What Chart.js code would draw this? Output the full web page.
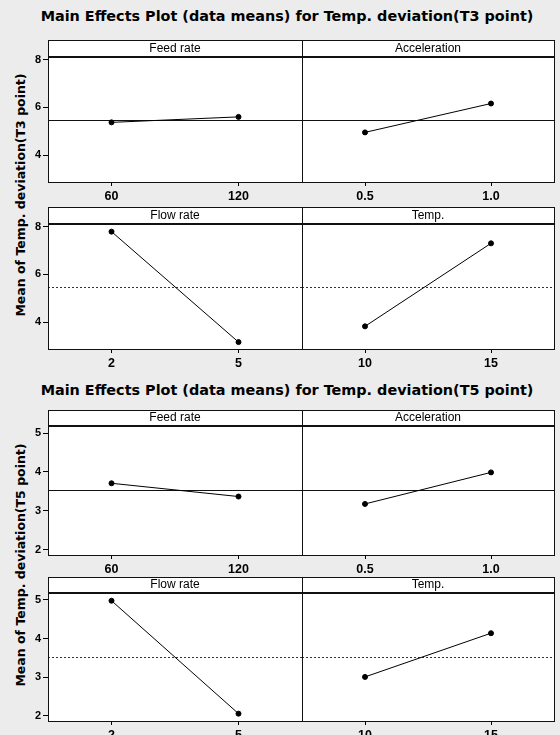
<!DOCTYPE html>
<html>
<head>
<meta charset="utf-8">
<script src="https://cdn.jsdelivr.net/npm/chart.js@4.4.1/dist/chart.umd.min.js"></script>
<style>
  body { margin: 0; width: 560px; height: 735px; position: relative; overflow: hidden; background: #ececec; }
  canvas { position: absolute; }
  .ttl { position: absolute; left: 287px; transform: translateX(-50%); white-space: nowrap;
         font: bold 14.4px "DejaVu Sans"; line-height: 20px; color: #000; }
  .ylab { position: absolute; left: 21px; transform: translate(-50%, -50%) rotate(-90deg); white-space: nowrap;
          font: bold 12.5px "DejaVu Sans"; line-height: 14px; color: #000; }
</style>
</head>
<body>
<div class="ttl" style="top:6px">Main Effects Plot (data means) for Temp. deviation(T3 point)</div>
<div class="ylab" style="top:195px">Mean of Temp. deviation(T3 point)</div>
<div class="ttl" style="top:380px">Main Effects Plot (data means) for Temp. deviation(T5 point)</div>
<div class="ylab" style="top:565px">Mean of Temp. deviation(T5 point)</div>
<script>
// factors and their levels
const factors = ['Feed rate', 'Acceleration', 'Flow rate', 'Temp.'];
const feedLevels = ['60', '120'];
const accLevels = ['0.5', '1.0'];
const flowLevels = ['2', '5'];
const tempLevels = ['10', '15'];

// T3 point means
const t3Feed = [5.37, 5.60];
const t3Acc = [4.95, 6.16];
const t3Flow = [7.79, 3.16];
const t3Temp = [3.82, 7.30];
const t3Mean = 5.48;
const t3Ticks = [4, 6, 8];
const t3Range = [2.87, 8.11];

// T5 point means
const t5Feed = [3.71, 3.37];
const t5Acc = [3.18, 3.99];
const t5Flow = [4.98, 2.06];
const t5Temp = [3.01, 4.14];
const t5Mean = 3.53;
const t5Ticks = [2, 3, 4, 5];
const t5Range = [1.87, 5.18];

// panel boxes: top of header, header height, bottom of plot area
const rows = [[40, 17, 182], [207, 17, 349], [410, 16, 555], [577, 16, 721]];
const xAxisH = 22;

const panelBox = {
  id: 'panelBox',
  beforeDraw(chart, args, o) {
    const a = chart.chartArea, ctx = chart.ctx;
    ctx.save();
    ctx.fillStyle = '#fff';
    ctx.fillRect(a.left, a.top - o.hdr, a.right - a.left, a.bottom - a.top + o.hdr);
    ctx.restore();
  },
  beforeDatasetsDraw(chart, args, o) {
    const a = chart.chartArea, ctx = chart.ctx;
    const y = Math.round(chart.scales.y.getPixelForValue(o.mean)) + 0.5;
    ctx.save();
    ctx.strokeStyle = o.meanColor;
    ctx.lineWidth = 1;
    ctx.setLineDash(o.meanDash);
    ctx.beginPath();
    ctx.moveTo(a.left, y);
    ctx.lineTo(a.right, y);
    ctx.stroke();
    ctx.restore();
  },
  afterDraw(chart, args, o) {
    const a = chart.chartArea, ctx = chart.ctx;
    ctx.save();
    ctx.strokeStyle = '#111';
    ctx.lineWidth = 1;
    ctx.strokeRect(a.left + 0.5, a.top - o.hdr + 0.5, a.right - a.left, a.bottom - a.top + o.hdr);
    ctx.lineWidth = 2;
    ctx.beginPath();
    ctx.moveTo(a.left, a.top);
    ctx.lineTo(a.right + 1, a.top);
    ctx.stroke();
    ctx.restore();
  }
};

function panel(row, col, name, levels, values, mean, range, ticks, dotted) {
  const [boxTop, hdr, bottom] = rows[row];
  const cv = document.createElement('canvas');
  const left = col === 0 ? 0 : 300;
  const w = col === 0 ? 304 : 256;
  const h = bottom - boxTop + 2 + xAxisH;
  cv.width = w; cv.height = h;
  cv.style.left = left + 'px';
  cv.style.top = (boxTop - 2) + 'px';
  document.body.appendChild(cv);

  new Chart(cv, {
    type: 'line',
    data: {
      labels: levels,
      datasets: [{
        data: values,
        borderColor: '#000',
        borderWidth: 1,
        pointRadius: 2.5,
        pointBackgroundColor: '#000',
        pointBorderColor: '#000',
        tension: 0
      }]
    },
    options: {
      responsive: false,
      animation: false,
      events: [],
      layout: { autoPadding: false, padding: { top: 2, bottom: 0, left: col === 0 ? 0 : 2, right: 2 } },
      scales: {
        x: {
          type: 'category',
          offset: true,
          border: { display: false },
          grid: { offset: false, drawOnChartArea: false, drawTicks: true, tickLength: 4, color: '#000' },
          ticks: { color: '#000', padding: 3, maxRotation: 0, font: { family: 'Liberation Sans', size: 12.5, weight: 'bold' } },
          afterFit(s) { s.height = xAxisH; s.paddingLeft = 0; s.paddingRight = 0; }
        },
        y: {
          display: col === 0,
          min: range[0],
          max: range[1],
          border: { display: false },
          grid: { drawOnChartArea: false, drawTicks: true, tickLength: 5, color: '#000' },
          ticks: { color: '#000', padding: 2, font: { family: 'Liberation Sans', size: 11, weight: 'bold' } },
          afterBuildTicks(s) { s.ticks = ticks.map(v => ({ value: v })); },
          afterFit(s) { s.width = col === 0 ? 48 : 0; }
        }
      },
      plugins: {
        legend: { display: false },
        tooltip: { enabled: false },
        title: {
          display: true,
          text: name,
          fullSize: false,
          padding: 0,
          color: '#000',
          font: { family: 'Liberation Sans', size: 12, weight: 'normal', lineHeight: hdr + 'px' }
        },
        panelBox: {
          hdr: hdr,
          mean: mean,
          meanColor: dotted ? '#333' : '#111',
          meanDash: dotted ? [2, 2] : []
        }
      }
    },
    plugins: [panelBox]
  });
}

panel(0, 0, factors[0], feedLevels, t3Feed, t3Mean, t3Range, t3Ticks, false);
panel(0, 1, factors[1], accLevels, t3Acc, t3Mean, t3Range, t3Ticks, false);
panel(1, 0, factors[2], flowLevels, t3Flow, t3Mean, t3Range, t3Ticks, true);
panel(1, 1, factors[3], tempLevels, t3Temp, t3Mean, t3Range, t3Ticks, true);
panel(2, 0, factors[0], feedLevels, t5Feed, t5Mean, t5Range, t5Ticks, false);
panel(2, 1, factors[1], accLevels, t5Acc, t5Mean, t5Range, t5Ticks, false);
panel(3, 0, factors[2], flowLevels, t5Flow, t5Mean, t5Range, t5Ticks, true);
panel(3, 1, factors[3], tempLevels, t5Temp, t5Mean, t5Range, t5Ticks, true);
</script>
</body>
</html>
